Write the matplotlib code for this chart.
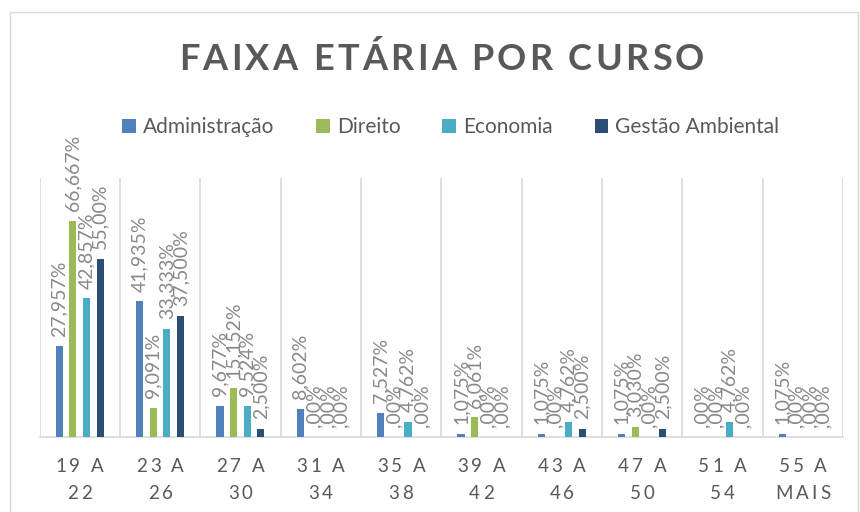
import matplotlib
matplotlib.use('Agg')
import matplotlib.pyplot as plt
import numpy as np

plt.rcParams['font.family'] = ['Lato', 'DejaVu Sans']

faixas_1 = ['19 A', '23 A', '27 A', '31 A', '35 A', '39 A', '43 A', '47 A', '51 A', '55 A']
faixas_2 = ['22', '26', '30', '34', '38', '42', '46', '50', '54', 'MAIS']
cursos = ['Administração', 'Direito', 'Economia', 'Gestão Ambiental']
cores = ['#4F81BD', '#9BBB59', '#4BACC6', '#2C4D75']

administracao = [27.957, 41.935, 9.677, 8.602, 7.527, 1.075, 1.075, 1.075, 0, 1.075]
direito = [66.667, 9.091, 15.152, 0, 0, 6.061, 0, 3.030, 0, 0]
economia = [42.857, 33.333, 9.524, 0, 4.762, 0, 4.762, 0, 4.762, 0]
gestao = [55.00, 37.500, 2.500, 0, 0, 0, 2.500, 2.500, 0, 0]
series = [administracao, direito, economia, gestao]

W, H = 860, 512


def rotulo(v):
    if v == 0:
        return ',00%'
    if v == 55.0:
        return '55,00%'
    return f'{v:.3f}'.replace('.', ',') + '%'


def texto_espacado(fig, r, xc, y, s, gap, **kw):
    # draws s char by char with extra letter spacing, centered on xc (pixels)
    def largura(t):
        obj = fig.text(0, 0, t, **kw)
        w = obj.get_window_extent(r).width
        obj.remove()
        return w
    base = largura('xx')
    ws = [largura('x' + ch + 'x') - base for ch in s]
    total = sum(ws) + gap * (len(s) - 1)
    x = xc - total / 2
    for ch, w in zip(s, ws):
        if ch != ' ':
            fig.text(x / W, 1 - y / H, ch, ha='left', va='baseline', **kw)
        x += w + gap


fig = plt.figure(figsize=(8.6, 5.12), dpi=100)
r = fig.canvas.get_renderer()
ax = fig.add_axes([39.5 / W, (512 - 437) / H, 803.5 / W, (437 - 178) / H])

x = np.arange(len(faixas_1))
largura_barra = 0.09
passo = 0.17
for i, (nome, vals, cor) in enumerate(zip(cursos, series, cores)):
    pos = x + (i - 1.5) * passo
    ax.bar(pos, vals, width=largura_barra, color=cor, label=nome, zorder=3)
    for px, v in zip(pos, vals):
        ax.annotate(rotulo(v), (px, v), xytext=(0, 7), textcoords='offset points',
                    rotation=90, ha='center', va='bottom', fontsize=14,
                    color='#898989', zorder=4)

ax.set_xlim(-0.5, len(faixas_1) - 0.5)
ax.set_ylim(0, 80)
ax.set_yticks([])
ax.set_xticks([])
for b in np.arange(-0.5, len(faixas_1), 1):
    ax.axvline(b, color='#d9d9d9', lw=1.2, zorder=1)
for s in ['top', 'left', 'right']:
    ax.spines[s].set_visible(False)
ax.spines['bottom'].set_color('#d9d9d9')
ax.spines['bottom'].set_linewidth(1.2)

# category labels with letter spacing
for i, (a, b) in enumerate(zip(faixas_1, faixas_2)):
    xc = ax.transData.transform((i, 0))[0]
    texto_espacado(fig, r, xc, 472, a, 3, fontsize=13.5, color='#595959')
    texto_espacado(fig, r, xc, 499, b, 3, fontsize=13.5, color='#595959')

texto_espacado(fig, r, 441.5, 69.5, 'FAIXA ETÁRIA POR CURSO', 3.3,
               fontsize=26, fontweight='bold', color='#595959')

handles, labels = ax.get_legend_handles_labels()
fig.legend(handles, labels, loc='center', bbox_to_anchor=(451 / W, 1 - 127 / H),
           ncol=4, frameon=False, fontsize=15, labelcolor='#595959',
           handlelength=0.65, handleheight=0.65, handletextpad=0.35, columnspacing=2.0,
           borderpad=0)

fig.patches.append(plt.Rectangle((9.5 / W, -0.1), (858 - 9.5) / W, 1.1 - 11.5 / H,
                                 transform=fig.transFigure, fill=False,
                                 edgecolor='#d9d9d9', lw=1))

fig.savefig('out.png', dpi=100)
